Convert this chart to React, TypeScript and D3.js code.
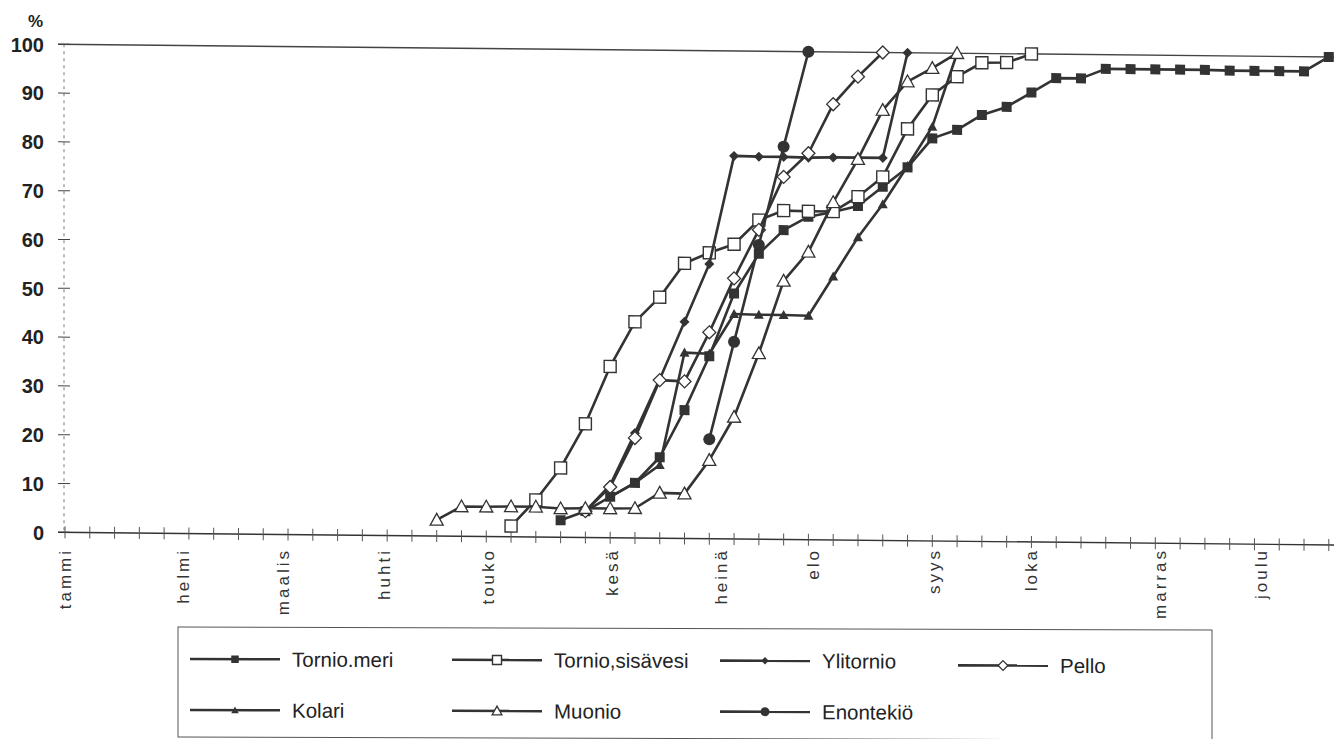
import React from "react";
import * as d3 from "d3";

// ---- data (week index 0 = first week of January) ----
const weekCount = 52;
const monthLabels = ["tammi", "helmi", "maalis", "huhti", "touko", "kesä", "heinä", "elo", "syys", "loka", "marras", "joulu"];
const monthWeeks = [0, 4.8, 8.8, 12.9, 17.1, 22.1, 26.5, 30.2, 35.1, 39, 44.2, 48.3];
const yTicks = [0, 10, 20, 30, 40, 50, 60, 70, 80, 90, 100];

const tornioMeriStart = 20;
const tornioMeri = [3.5, 5.4, 8.4, 11.3, 16.6, 26.3, 37.4, 50.3, 58.5, 63.4, 66.2, 67.2, 68.5, 72.5, 76.5, 82.5, 84.3, 87.4, 89.1, 92.1, 95.1, 95.1, 97.1, 97.1, 97.1, 97.1, 97.1, 97.0, 97.0, 97.0, 97.0, 100];
const tornioSisaStart = 18;
const tornioSisa = [2.2, 7.6, 14.2, 23.3, 35.1, 44.3, 49.4, 56.4, 58.6, 60.4, 65.4, 67.4, 67.3, 67.3, 70.4, 74.5, 84.4, 91.4, 95.2, 98.1, 98.2, 100];
const ylitornioStart = 21;
const ylitornio = [5.4, 10.8, 21.5, 32.6, 44.4, 56.3, 78.5, 78.4, 78.4, 78.3, 78.4, 78.4, 78.4, 100];
const pelloStart = 21;
const pello = [5.4, 10.4, 20.5, 32.4, 32.2, 42.3, 53.4, 63.4, 74.3, 79.2, 89.3, 95.0, 100];
const kolariStart = 22;
const kolari = [8.4, 11.3, 15.0, 38.1, 37.9, 46.1, 46.0, 46.0, 45.9, 54.0, 62.1, 68.9, 76.8, 84.9, 100];
const muonioStart = 15;
const muonio = [3.3, 6.1, 6.1, 6.2, 6.2, 5.9, 6.0, 6.0, 6.1, 9.3, 9.2, 16.1, 25.0, 38.1, 53.0, 59.0, 69.2, 78.1, 88.2, 94.1, 96.9, 100];
const enontekioStart = 26;
const enontekio = [20.4, 40.4, 60.3, 80.5, 100];

type MarkerKind = "fsquare" | "osquare" | "fdiamond" | "odiamond" | "ftriangle" | "otriangle" | "fcircle";

const seriesNames = ["Tornio.meri", "Tornio,sisävesi", "Ylitornio", "Pello", "Kolari", "Muonio", "Enontekiö"];
const seriesStarts = [tornioMeriStart, tornioSisaStart, ylitornioStart, pelloStart, kolariStart, muonioStart, enontekioStart];
const seriesValues = [tornioMeri, tornioSisa, ylitornio, pello, kolari, muonio, enontekio];
const seriesMarkers: MarkerKind[] = ["fsquare", "osquare", "fdiamond", "odiamond", "ftriangle", "otriangle", "fcircle"];

const INK = "#333";

function Marker({ kind, cx, cy, scale = 1 }: { kind: MarkerKind; cx: number; cy: number; scale?: number }) {
  const k = scale;
  switch (kind) {
    case "fsquare":
      return <rect x={cx - 5 * k} y={cy - 5 * k} width={10 * k} height={10 * k} fill={INK} />;
    case "osquare":
      return <rect x={cx - 6 * k} y={cy - 6 * k} width={12 * k} height={12 * k} fill="#fff" stroke={INK} strokeWidth={1.4} />;
    case "fdiamond": {
      const r = 5 * k;
      return <path d={`M${cx},${cy - r}L${cx + r},${cy}L${cx},${cy + r}L${cx - r},${cy}Z`} fill={INK} />;
    }
    case "odiamond": {
      const r = 6.5 * k;
      return <path d={`M${cx},${cy - r}L${cx + r},${cy}L${cx},${cy + r}L${cx - r},${cy}Z`} fill="#fff" stroke={INK} strokeWidth={1.3} />;
    }
    case "ftriangle": {
      const r = 5 * k;
      return <path d={`M${cx},${cy - r}L${cx + r},${cy + r * 0.8}L${cx - r},${cy + r * 0.8}Z`} fill={INK} />;
    }
    case "otriangle": {
      const r = 6.5 * k;
      return <path d={`M${cx},${cy - r}L${cx + r},${cy + r * 0.8}L${cx - r},${cy + r * 0.8}Z`} fill="#fff" stroke={INK} strokeWidth={1.3} />;
    }
    case "fcircle":
      return <circle cx={cx} cy={cy} r={6 * k} fill={INK} />;
  }
  return null;
}

export default function App() {
  const W = 1334;
  const H = 739;
  const x = d3.scaleLinear().domain([0, 51]).range([65, 1328.8]);
  const y = d3.scaleLinear().domain([0, 100]).range([532.3, 44.3]);
  const skew = 0.01;
  const legendSkew = 0.003;

  const line = d3
    .line<[number, number]>()
    .x((d) => x(d[0]))
    .y((d) => y(d[1]));

  const series = seriesNames.map((name, si) => ({
    name,
    marker: seriesMarkers[si],
    pts: seriesValues[si].map((v, j) => [seriesStarts[si] + j, v] as [number, number]),
  }));

  const weeks = d3.range(weekCount);
  const fontMain = "'Liberation Sans', Arial, sans-serif";

  const legendCols = [190, 452, 720, 958];
  const legendRows = [659, 710];

  return (
    <svg width={W} height={H} style={{ position: "absolute", left: 0, top: 0, background: "#fff" }}>
      <rect x={0} y={0} width={W} height={H} fill="#fff" />
      {/* % label */}
      <text x={43} y={27} textAnchor="end" fontFamily={fontMain} fontWeight="bold" fontSize={17} fill="#222">%</text>

      {/* y tick labels */}
      {yTicks.map((t) => (
        <text key={t} x={44} y={y(t)} dy="0.36em" textAnchor="end" fontFamily={fontMain} fontWeight="bold" fontSize={20} fill="#222">
          {t}
        </text>
      ))}

      {/* month labels */}
      {monthLabels.map((m, i) => (
        <text
          key={m}
          transform={`translate(${x(monthWeeks[i])},${548}) rotate(-90)`}
          textAnchor="end"
          dominantBaseline="central"
          fontFamily={fontMain}
          fontSize={17}
          letterSpacing={3}
          fill="#333"
        >
          {m}
        </text>
      ))}

      <g transform={`matrix(1, ${skew}, 0, 1, 0, ${-skew * 64})`}>
        {/* top line at 100 */}
        <line x1={58} x2={W} y1={y(100)} y2={y(100)} stroke="#444" strokeWidth={1.4} />

        {/* y axis */}
        <line x1={64} x2={64} y1={y(100)} y2={y(0)} stroke="#777" strokeWidth={1} strokeDasharray="3 4" />
        {yTicks.map((t) => (
          <line key={t} x1={58} x2={70} y1={y(t)} y2={y(t)} stroke="#444" strokeWidth={1} />
        ))}

        {/* x axis */}
        <line x1={58} x2={W} y1={y(0)} y2={y(0)} stroke="#333" strokeWidth={1.4} />
        {weeks.map((w) => (
          <line key={w} x1={x(w)} x2={x(w)} y1={y(0) - 6} y2={y(0) + 6} stroke="#555" strokeWidth={1} />
        ))}

        {/* series */}
        {series.map((s) => (
          <g key={s.name}>
            <path d={line(s.pts) || ""} fill="none" stroke={INK} strokeWidth={2.6} strokeLinejoin="round" />
            {s.pts.map((p, j) => (
              <Marker key={j} kind={s.marker} cx={x(p[0])} cy={y(p[1])} />
            ))}
          </g>
        ))}
      </g>

      {/* legend */}
      <g transform={`matrix(1, ${legendSkew}, 0, 1, 0, ${-legendSkew * 178})`}>
        <rect x={178} y={627} width={1034} height={110} fill="none" stroke="#555" strokeWidth={1} />
        {series.map((s, i) => {
          const col = i < 4 ? i : i - 4;
          const row = i < 4 ? 0 : 1;
          const lx = legendCols[col];
          const ly = legendRows[row] + (i === 3 ? 4 : 0);
          return (
            <g key={s.name}>
              <line x1={lx} x2={lx + 90} y1={ly} y2={ly} stroke={INK} strokeWidth={2.6} />
              <Marker kind={s.marker} cx={lx + 45} cy={ly} scale={0.75} />
              <text x={lx + 102} y={ly} dy="0.36em" fontFamily={fontMain} fontSize={20.5} fill="#222">
                {s.name}
              </text>
            </g>
          );
        })}
      </g>
    </svg>
  );
}
